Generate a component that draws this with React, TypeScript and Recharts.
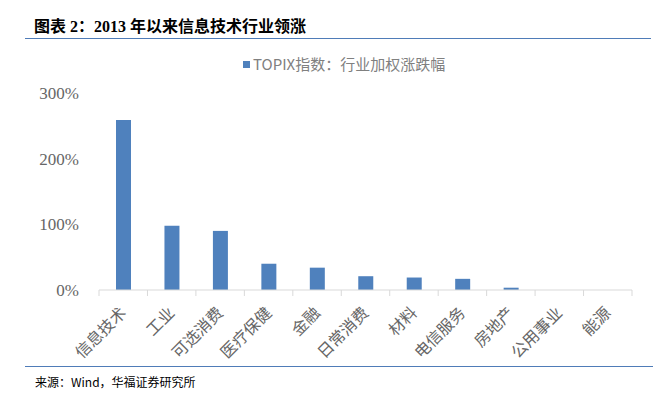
import { Bar, BarChart, Legend, XAxis, YAxis } from 'recharts'

const sectors = ['信息技术', '工业', '可选消费', '医疗保健', '金融', '日常消费', '材料', '电信服务', '房地产', '公用事业', '能源']
const returns = [2.59, 0.98, 0.9, 0.4, 0.34, 0.21, 0.19, 0.17, 0.035, 0, 0]
const yTicks = [0, 1, 2, 3]
const seriesName = 'TOPIX指数：行业加权涨跌幅'

const data = sectors.map((sector, i) => ({ sector, value: returns[i] }))

const BLUE = '#4F81BD'
const GREY = '#666666'
const SERIF = '"Liberation Serif", "Times New Roman", "Noto Sans CJK SC", serif'

const PLOT_LEFT = 99
const PLOT_RIGHT = 632
const BAND = (PLOT_RIGHT - PLOT_LEFT) / sectors.length

function SectorTick(props: any) {
  const { x, y, payload, index } = props
  return (
    <g>
      <line x1={x - BAND / 2} x2={x - BAND / 2} y1={y - 8} y2={y - 2} stroke="#d9d9d9" />
      {index === sectors.length - 1 && (
        <line x1={x + BAND / 2} x2={x + BAND / 2} y1={y - 8} y2={y - 2} stroke="#d9d9d9" />
      )}
      <text
        x={x + 4}
        y={y + 16}
        transform={`rotate(-45, ${x + 4}, ${y + 16})`}
        textAnchor="end"
        fill={GREY}
        fontSize={16}
        fontFamily={SERIF}
      >
        {payload.value}
      </text>
    </g>
  )
}

function LegendContent() {
  return (
    <div style={{ display: 'flex', alignItems: 'center', paddingLeft: 243, fontFamily: '"Noto Sans CJK SC", sans-serif', fontSize: 15, color: '#808080', lineHeight: '18px' }}>
      <span style={{ display: 'inline-block', width: 7, height: 7, background: BLUE, marginRight: 3 }} />
      {seriesName}
    </div>
  )
}

export default function App() {
  return (
    <div style={{ position: 'absolute', left: 0, top: 0, width: 671, height: 398, background: '#fff', overflow: 'hidden' }}>
      <div
        style={{
          position: 'absolute',
          left: 34,
          top: 13,
          fontFamily: SERIF,
          fontWeight: 'bold',
          fontSize: 16,
          color: '#000',
        }}
      >
        图表 2：2013 年以来信息技术行业领涨
      </div>
      <div style={{ position: 'absolute', left: 25, top: 38, width: 626, height: 1, background: '#4F7CB8' }} />

      <div style={{ position: 'absolute', left: 0, top: 0 }}>
        <BarChart width={671} height={398} data={data} margin={{ top: 75, right: 671 - PLOT_RIGHT, bottom: 398 - 290 - 80, left: PLOT_LEFT - 60 }}>
          <Legend
            verticalAlign="top"
            align="left"
            content={<LegendContent />}
            wrapperStyle={{ position: 'absolute', top: 55, left: 0, width: 671, height: 18 }}
          />
          <XAxis
            dataKey="sector"
            interval={0}
            axisLine={{ stroke: '#d9d9d9' }}
            tickLine={false}
            tick={<SectorTick />}
            height={80}
          />
          <YAxis
            width={60}
            domain={[0, 3]}
            ticks={yTicks}
            axisLine={false}
            tickLine={false}
            tickFormatter={(v: number) => `${Math.round(v * 100)}%`}
            tick={{ fill: GREY, fontSize: 17, fontFamily: SERIF }}
            tickMargin={14}
          />
          <Bar dataKey="value" name={seriesName} fill={BLUE} barSize={15} isAnimationActive={false} />
        </BarChart>
      </div>

      <div style={{ position: 'absolute', left: 25, top: 366, width: 628, height: 1, background: '#4F7CB8' }} />
      <div
        style={{
          position: 'absolute',
          left: 35,
          top: 373,
          fontFamily: '"Noto Sans CJK SC", sans-serif',
          fontSize: 12,
          color: '#000',
        }}
      >
        来源：Wind，华福证券研究所
      </div>
    </div>
  )
}
